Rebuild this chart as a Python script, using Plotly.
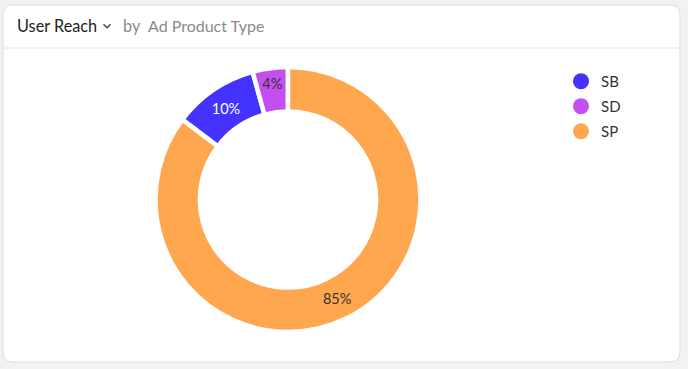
import plotly.graph_objects as go

labels = ["SB", "SD", "SP"]
values = [10.4, 4.3, 85.3]
colors = ["#4433ff", "#c44ff0", "#ffa74f"]
text_colors = ["#ffffff", "#333333", "#333333"]

W, H = 688, 369
FONT = "Lato, 'Open Sans', sans-serif"

fig = go.Figure()

# pie geometry (pixels)
cx, cy, r = 288, 199.5, 132.5
fig.add_trace(go.Pie(
    labels=labels, values=values, sort=False, direction="clockwise",
    rotation=-(values[0] + values[1]) / sum(values) * 360,
    hole=0.665,
    marker=dict(colors=colors, line=dict(color="#ffffff", width=4.5)),
    texttemplate="%{percent:.0%}", textposition="inside",
    insidetextorientation="horizontal",
    insidetextfont=dict(color=text_colors, size=14.5, family=FONT),
    domain=dict(x=[(cx - r) / W, (cx + r) / W], y=[(H - cy - r) / H, (H - cy + r) / H]),
    showlegend=False, hoverinfo="label+percent",
))

for lab, col in zip(labels, colors):
    fig.add_trace(go.Scatter(
        x=[None], y=[None], mode="markers", name=lab, legendgroup=lab,
        marker=dict(size=16, color=col, symbol="circle"),
    ))

# card
ccx, ccy = 341.5, 183.5
hw, hh, rr = 338.5, 178.5, 10
path = (f"M {-hw+rr},{-hh} L {hw-rr},{-hh} Q {hw},{-hh} {hw},{-hh+rr} "
        f"L {hw},{hh-rr} Q {hw},{hh} {hw-rr},{hh} L {-hw+rr},{hh} "
        f"Q {-hw},{hh} {-hw},{hh-rr} L {-hw},{-hh+rr} Q {-hw},{-hh} {-hw+rr},{-hh} Z")
chev = "M -3.5,1.8 L 0,-1.8 L 3.5,1.8"
shapes = [
    dict(type="path", xref="paper", yref="paper", xsizemode="pixel", ysizemode="pixel",
         xanchor=ccx / W, yanchor=1 - ccy / H, path=path,
         fillcolor="#ffffff", line=dict(color="#dcdcdc", width=1), layer="below"),
    dict(type="line", xref="paper", yref="paper", x0=4 / W, x1=679 / W,
         y0=1 - 48 / H, y1=1 - 48 / H, line=dict(color="#e6e6e6", width=1), layer="below"),
    dict(type="path", xref="paper", yref="paper", xsizemode="pixel", ysizemode="pixel",
         xanchor=107 / W, yanchor=1 - 26 / H, path=chev,
         line=dict(color="#444444", width=1.4)),
]

fig.update_layout(
    width=W, height=H, margin=dict(l=0, r=0, t=0, b=0),
    paper_bgcolor="#f2f2f2", plot_bgcolor="rgba(0,0,0,0)",
    font=dict(family=FONT, color="#333333"),
    xaxis=dict(visible=False), yaxis=dict(visible=False),
    shapes=shapes,
    legend=dict(x=561 / W, y=1 - 65 / H, xanchor="left", yanchor="top",
                font=dict(size=15, color="#333333", family=FONT),
                itemsizing="trace", bgcolor="rgba(0,0,0,0)", tracegroupgap=2.5),
    annotations=[
        dict(xref="paper", yref="paper", x=15 / W, y=1 - 26 / H, xanchor="left", yanchor="middle",
             showarrow=False, text="User Reach", font=dict(size=16.3, family=FONT, color="#222222")),
        dict(xref="paper", yref="paper", x=121 / W, y=1 - 26 / H, xanchor="left", yanchor="middle",
             showarrow=False, text="by", font=dict(size=16.3, family=FONT, color="#8a8a8a")),
        dict(xref="paper", yref="paper", x=146 / W, y=1 - 26 / H, xanchor="left", yanchor="middle",
             showarrow=False, text="Ad Product Type", font=dict(size=16, family=FONT, color="#8a8a8a")),
    ],
)

fig.write_html("out.html", config={"displayModeBar": False},
               post_script="document.body.style.margin='0';")
